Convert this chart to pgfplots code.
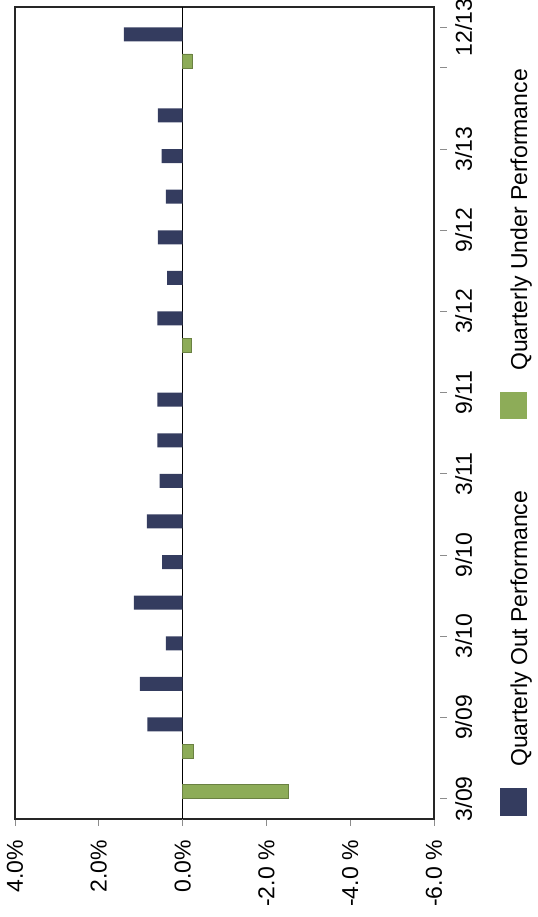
\documentclass[border=0pt]{standalone}
\usepackage{fontspec}
\setmainfont{Liberation Sans}
\usepackage{pgfplots}
\pgfplotsset{compat=1.18}
\definecolor{navy}{RGB}{52,60,95}
\definecolor{lgreen}{RGB}{141,172,88}
\newcommand{\fs}{\fontsize{23bp}{27bp}\selectfont}
\begin{document}
\begin{tikzpicture}
\path[use as bounding box] (0,0) rectangle (538bp,917bp);
\begin{axis}[
  at={(15bp,98bp)}, anchor=south west,
  scale only axis, width=419bp, height=812bp,
  xmin=-6, xmax=4, x dir=reverse,
  ymin=-0.5, ymax=19.5,
  xbar, bar width=14bp,
  axis line style={black!85, line width=1.3bp},
  xtick={-6,-4,-2,0,2,4},
  xticklabels={-6.0 \%,-4.0 \%,-2.0 \%,0.0\%,2.0\%,4.0\%},
  ytick={0,2,4,6,8,10,12,14,16,18,19},
  yticklabels={3/09,9/09,3/10,9/10,3/11,9/11,3/12,9/12,3/13,,12/13},
  xtick pos=left, ytick pos=right, yticklabel pos=right,
  tick align=outside, major tick length=7bp,
  tick style={black!45, line width=0.9bp},
  ytick style={xshift=6bp},
  tick label style={font=\fs},
  xticklabel style={rotate=90, anchor=east, inner sep=0pt},
  yticklabel style={rotate=90, anchor=north, inner sep=0pt},
  xticklabel shift=14bp, yticklabel shift=14bp,
  extra x ticks={0}, extra x tick labels={},
  extra x tick style={grid=major, major grid style={black, line width=1bp}},
]
\addplot[fill=navy, draw=none, bar shift=-7bp]
  coordinates {(0.84,2) (1.02,3) (0.40,4) (1.16,5) (0.49,6) (0.85,7) (0.55,8)
    (0.60,9) (0.60,10) (0.60,12) (0.37,13) (0.59,14) (0.40,15) (0.50,16)
    (0.59,17) (1.40,19)};
\addplot[fill=lgreen, draw=lgreen!75!black, line width=0.5bp, bar shift=7bp]
  coordinates {(-2.52,0) (-0.25,1) (-0.20,11) (-0.22,18)};
\end{axis}
% legend (rotated with the chart)
\fill[navy] (500bp,101bp) rectangle (527bp,129bp);
\node[rotate=90, anchor=base west, inner sep=0pt, font=\fs] at (527bp,150bp) {Quarterly Out Performance};
\fill[lgreen] (500bp,498bp) rectangle (527bp,525bp);
\node[rotate=90, anchor=base west, inner sep=0pt, font=\fs] at (527bp,546bp) {Quarterly Under Performance};
\end{tikzpicture}
\end{document}
